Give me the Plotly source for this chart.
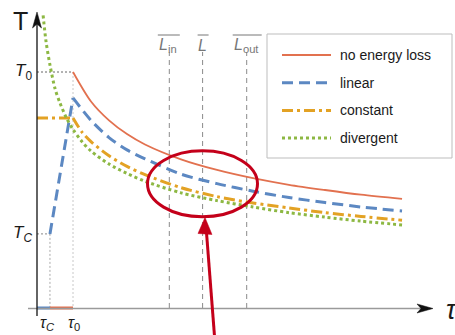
import plotly.graph_objects as go

W, H = 455, 335

# ---- data: proper time in units of tau_0, temperature in units of T_0 ----
tau_C = 0.36          # critical time
T_C = 0.314           # critical temperature

# no energy loss (starts at tau_0, T_0)
tau_free = [1.0, 1.5, 2.0, 2.5, 3.0, 4.0, 5.0, 6.0, 7.0, 8.0, 9.0, 10.14]
T_free = [1.0, 0.875, 0.795, 0.737, 0.693, 0.63, 0.585, 0.55, 0.522, 0.5, 0.48, 0.462]

# linear energy loss: rise from (tau_C, T_C) then cooling
tau_lin_rise = [0.36, 1.0]
T_lin_rise = [0.314, 0.89]
tau_lin = [1.0, 1.5, 2.0, 2.5, 3.0, 4.0, 5.0, 6.0, 7.0, 8.0, 9.0, 10.14]
T_lin = [0.89, 0.795, 0.722, 0.67, 0.632, 0.567, 0.527, 0.495, 0.468, 0.447, 0.428, 0.411]

# constant energy loss: flat until tau_0, then cooling
tau_const_flat = [0.0, 1.0]
T_const_flat = [0.805, 0.805]
tau_const = [1.0, 1.25, 1.5, 2.0, 2.5, 3.0, 4.0, 5.0, 6.0, 7.0, 8.0, 9.0, 10.14]
T_const = [0.805, 0.745, 0.705, 0.645, 0.6, 0.565, 0.51, 0.472, 0.445, 0.424, 0.404, 0.388, 0.372]

# divergent energy loss
tau_div = [0.17, 0.25, 0.36, 0.5, 0.64, 0.82, 1.0, 1.25, 1.5, 2.0, 2.5, 3.0, 4.0,
           5.0, 6.0, 7.0, 8.0, 9.0, 10.14]
T_div = [1.24, 1.13, 1.03, 0.93, 0.868, 0.805, 0.757, 0.705, 0.665, 0.61, 0.57, 0.537,
         0.488, 0.455, 0.428, 0.404, 0.385, 0.368, 0.352]

# path lengths marked on the time axis
L_tau = [3.675, 4.60, 5.825]
L_labels = ["<i>L</i><sub>in</sub>", "<i>L</i>", "<i>L</i><sub>out</sub>"]

legend_names = ["no energy loss", "linear", "constant", "divergent"]

# ---- styles ----
RED = "#E2714F"
BLUE = "#5C88C2"
ORANGE = "#E3A224"
GREEN = "#8DB843"
MARK = "#C4001A"
FONT = "Liberation Sans"

# axis geometry in pixels: tau=0 at x=37, tau_0 at x=73; T=0 at y=308, T_0 at y=72
X0PX, XUNIT = 37, 36
Y0PX, YUNIT = 308, 236
x_range = [-X0PX / XUNIT, (W - X0PX) / XUNIT]
y_range = [-(H - Y0PX) / YUNIT, Y0PX / YUNIT]


def px(x):
    return x / W


def py(y):
    return 1 - y / H


def tx(tau):
    return X0PX + XUNIT * tau


def ty(T):
    return Y0PX - YUNIT * T


styles = {
    "red": dict(color=RED, width=1.8),
    "blue": dict(color=BLUE, width=3, dash="11px,6px"),
    "orange": dict(color=ORANGE, width=3, dash="11px,4px,3px,4px"),
    "green": dict(color=GREEN, width=3, dash="3px,3px"),
}

fig = go.Figure()


def curve(x, y, style, shape="spline"):
    fig.add_trace(go.Scatter(x=x, y=y, mode="lines", showlegend=False, hoverinfo="skip",
                             line=dict(shape=shape, smoothing=0.8, **styles[style])))


# guide lines to T_0 / T_C and tau_0 / tau_C
guide = dict(mode="lines", showlegend=False, hoverinfo="skip")
fig.add_trace(go.Scatter(x=[0, 1], y=[1, 1], line=dict(color="#666", width=1, dash="2px,2px"), **guide))
fig.add_trace(go.Scatter(x=[1, 1], y=[1, 0], line=dict(color="#c8c8c8", width=1, dash="2px,2px"), **guide))
fig.add_trace(go.Scatter(x=[0, tau_C], y=[T_C, T_C], line=dict(color="#888", width=1, dash="2px,2px"), **guide))
fig.add_trace(go.Scatter(x=[tau_C, tau_C], y=[T_C, 0], line=dict(color="#aaa", width=1, dash="2px,2px"), **guide))

# path-length markers
for L in L_tau:
    fig.add_trace(go.Scatter(x=[L, L], y=[0, (Y0PX - 52) / YUNIT],
                             line=dict(color="#8a8a8a", width=1, dash="5px,4px"), **guide))

# axes
fig.add_shape(type="line", xref="paper", yref="paper", x0=px(28), x1=px(421), y0=py(308.5), y1=py(308.5),
              line=dict(color="#9a9a9a", width=1.3))
fig.add_shape(type="line", xref="paper", yref="paper", x0=px(37), x1=px(37), y0=py(316), y1=py(22),
              line=dict(color="#111", width=1.3))


def arrow_path(points):
    return "M " + " L ".join(f"{px(a):.5f},{py(b):.5f}" for a, b in points) + " Z"


fig.add_shape(type="path", xref="paper", yref="paper",
              path=arrow_path([(37, 12), (41.5, 28), (37, 24), (32.5, 28)]),
              fillcolor="#111", line=dict(color="#111", width=0.5))
fig.add_shape(type="path", xref="paper", yref="paper",
              path=arrow_path([(433, 308.5), (417, 313), (421, 308.5), (417, 304)]),
              fillcolor="#111", line=dict(color="#111", width=0.5))

# segments on the time axis
fig.add_trace(go.Scatter(x=[0, tau_C], y=[0, 0], line=dict(color=BLUE, width=3), **guide))
fig.add_trace(go.Scatter(x=[tau_C, 1], y=[0, 0], line=dict(color=RED, width=3), **guide))

# temperature curves
curve(tau_free, T_free, "red")
curve(tau_lin_rise, T_lin_rise, "blue", shape="linear")
curve(tau_lin, T_lin, "blue")
curve(tau_const_flat, T_const_flat, "orange", shape="linear")
curve(tau_const, T_const, "orange")
curve(tau_div, T_div, "green")

annotations = []


def text(x, y, s, size, color="#1a1a1a", xanchor="center", family=FONT):
    annotations.append(dict(xref="paper", yref="paper", x=px(x), y=py(y), text=s, showarrow=False,
                            xanchor=xanchor, yanchor="middle", font=dict(size=size, color=color, family=family)))


# axis labels and tick labels
text(20, 21, "T", 25)
text(444, 310, "<i>τ</i>", 27, xanchor="left")
text(34, 72, "<i>T</i><sub>0</sub>", 17, xanchor="right")
text(34, 234, "<i>T</i><sub><i>C</i></sub>", 17, xanchor="right")
text(tx(tau_C) - 2, 323, "<i>τ</i><sub><i>C</i></sub>", 16)
text(tx(1) + 1, 323, "<i>τ</i><sub>0</sub>", 16)

# labels of the path lengths, with overbars
bar_half = [10.5, 5, 14]
for L, lab, hw in zip(L_tau, L_labels, bar_half):
    cx = tx(L) + (-1 if "in" in lab else 0)
    text(cx, 46, lab, 16, color="#777")
    fig.add_shape(type="line", xref="paper", yref="paper", x0=px(cx - hw), x1=px(cx + hw + 1),
                  y0=py(35), y1=py(35), line=dict(color="#777", width=1))

# legend
fig.add_shape(type="rect", xref="paper", yref="paper", x0=px(267), x1=px(452), y0=py(34), y1=py(158),
              line=dict(color="#bdbdbd", width=1))
for i, (name, st) in enumerate(zip(legend_names, ["red", "blue", "orange", "green"])):
    yy = 55 + 27.7 * i
    s = dict(styles[st])
    fig.add_shape(type="line", xref="paper", yref="paper", x0=px(282), x1=px(331), y0=py(yy), y1=py(yy),
                  line=s)
    text(338, yy, name, 14, xanchor="left")

# highlighted region with pointer
fig.add_shape(type="circle", xref="paper", yref="paper", x0=px(147.5), x1=px(257.5), y0=py(150.8), y1=py(216.8),
              line=dict(color=MARK, width=3))
fig.add_shape(type="line", xref="paper", yref="paper", x0=px(214.5), x1=px(206.3), y0=py(336), y1=py(230),
              line=dict(color=MARK, width=3))
fig.add_shape(type="path", xref="paper", yref="paper",
              path=arrow_path([(205, 217.5), (212, 234.5), (198, 233.5)]),
              fillcolor=MARK, line=dict(color=MARK, width=0.5))

fig.update_layout(
    width=W, height=H, autosize=False,
    margin=dict(l=0, r=0, t=0, b=0),
    paper_bgcolor="white", plot_bgcolor="white",
    xaxis=dict(range=x_range, visible=False, fixedrange=True),
    yaxis=dict(range=y_range, visible=False, fixedrange=True),
    annotations=annotations,
    showlegend=False,
)

fig.write_html("out.html", config={"displayModeBar": False})
